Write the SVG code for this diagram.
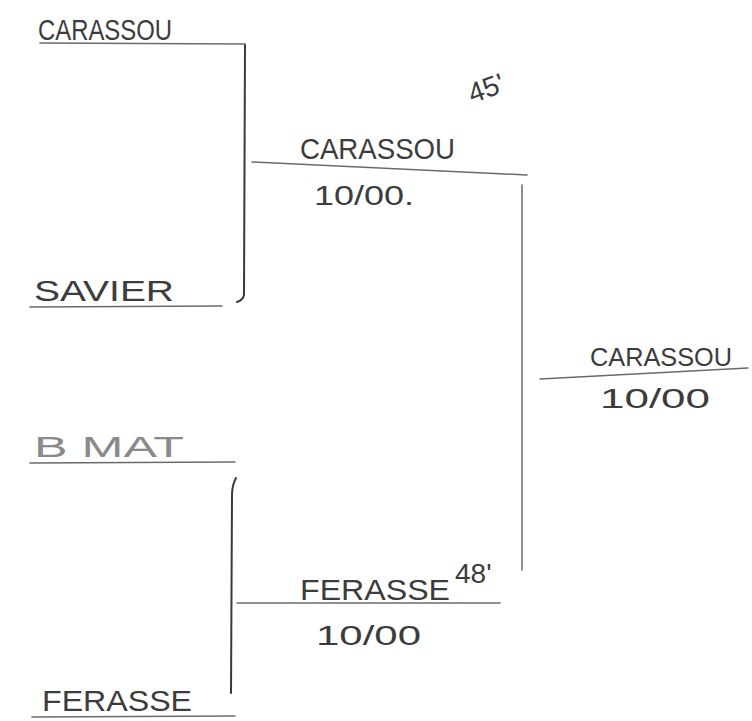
<svg xmlns="http://www.w3.org/2000/svg" width="752" height="721" viewBox="0 0 752 721">
<style>
.ln{stroke:#6a6a6a;stroke-width:1.5;fill:none;stroke-linecap:round}
.vl{stroke:#3a3a3a;stroke-width:2;fill:none;stroke-linecap:round}
.t{font-family:"Liberation Sans","DejaVu Sans",sans-serif;fill:#3c3c3c;font-size:30px}
.s{font-family:"Liberation Sans","DejaVu Sans",sans-serif;fill:#3c3c3c;font-size:28px}
</style>
<rect width="752" height="721" fill="#ffffff"/>
<g id="connectors">
<path class="ln" d="M40 43 L245 44"/>
<path class="vl" d="M245 45 L244 295 Q243 300 237 302"/>
<path class="ln" d="M30 307 L222 306"/>
<path class="ln" d="M252 162 L527 175"/>
<path class="ln" d="M522 185 L522 570"/>
<path class="ln" d="M30 463 L235 462"/>
<path class="vl" d="M236 478 Q232 485 232 495 L231 693"/>
<path class="ln" d="M32 717 L235 716"/>
<path class="ln" d="M237 603 L500 603"/>
<path class="ln" d="M540 379 L748 368"/>
</g>
<g id="n-carassou-1"><text class="t" x="38" y="40" textLength="134" lengthAdjust="spacingAndGlyphs">CARASSOU</text></g>
<g id="n-savier"><text class="t" x="34" y="301" textLength="140" lengthAdjust="spacingAndGlyphs">SAVIER</text></g>
<g id="n-bmat"><text class="t" x="34" y="457" textLength="150" lengthAdjust="spacingAndGlyphs" style="fill:#8a8a8a">B MAT</text></g>
<g id="n-ferasse-1"><text class="t" x="42" y="711" textLength="150" lengthAdjust="spacingAndGlyphs">FERASSE</text></g>
<g id="n-semi-1">
<text class="t" x="300" y="159" textLength="155" lengthAdjust="spacingAndGlyphs">CARASSOU</text>
<text class="s" x="314" y="205" textLength="100" lengthAdjust="spacingAndGlyphs">10/00.</text>
<text class="s" x="468" y="100" transform="rotate(-20 480 90)">45'</text>
</g>
<g id="n-semi-2">
<text class="t" x="300" y="600" textLength="150" lengthAdjust="spacingAndGlyphs">FERASSE</text>
<text class="s" x="455" y="583">48'</text>
<text class="s" x="316" y="645" textLength="105" lengthAdjust="spacingAndGlyphs">10/00</text>
</g>
<g id="n-final">
<text class="t" x="590" y="366" style="font-size:26px" textLength="142" lengthAdjust="spacingAndGlyphs">CARASSOU</text>
<text class="s" x="600" y="408" textLength="110" lengthAdjust="spacingAndGlyphs">10/00</text>
</g>
</svg>
